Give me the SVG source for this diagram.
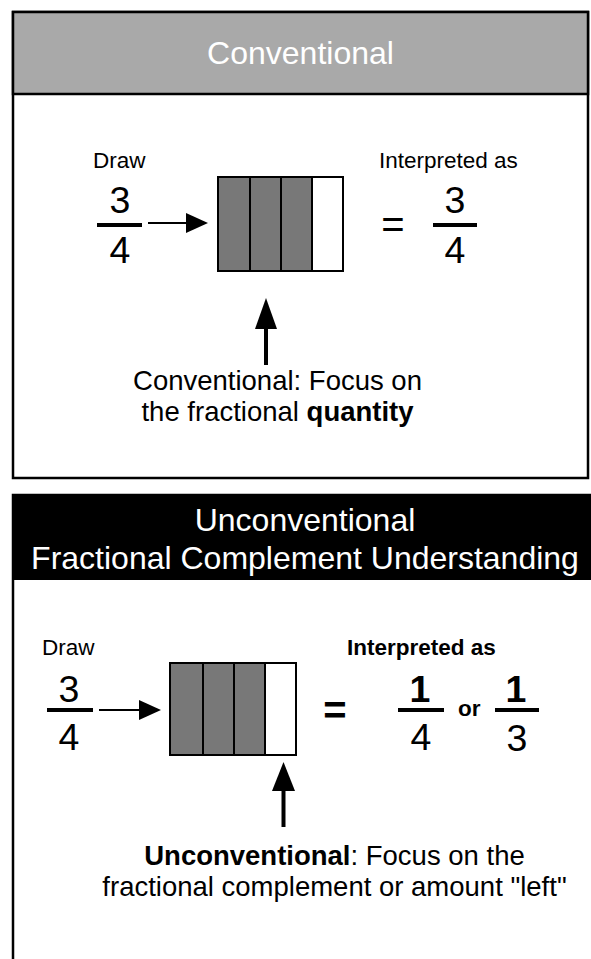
<svg xmlns="http://www.w3.org/2000/svg" width="591" height="959" viewBox="0 0 591 959">
<defs>
<style>
text{font-family:"Liberation Sans",Arial,Helvetica,sans-serif;fill:#000}
.title{font-size:32px;fill:#fff;text-anchor:middle}
.lbl{font-size:22.5px}
.num{font-size:37.5px;text-anchor:middle}
.bnum{font-size:37.5px;text-anchor:middle;font-weight:bold}
.cap{font-size:27.5px;text-anchor:middle}
.b{font-weight:bold}
.bar{stroke:#000;stroke-width:4}
.cell{fill:#787878;stroke:#000;stroke-width:2}
.cellw{fill:#fff;stroke:#000;stroke-width:2}
.shaft{stroke:#000;stroke-width:2}
.ushaft{stroke:#000;stroke-width:4}
</style>
</defs>

<g id="panel-conventional">
<rect x="13" y="12" width="575" height="466" fill="#fff" stroke="#000" stroke-width="2.5"/>
<rect x="13" y="12" width="575" height="82" fill="#a9a9a9" stroke="#000" stroke-width="2.5"/>
<text class="title" x="300.5" y="64">Conventional</text>
</g>

<g id="panel-unconventional">
<rect x="13" y="495" width="600" height="500" fill="#fff" stroke="#000" stroke-width="2.5"/>
<rect x="12" y="494" width="600" height="86" fill="#000"/>
<text class="title" x="305" y="531">Unconventional</text>
<text class="title" x="305" y="569">Fractional Complement Understanding</text>
</g>

<g id="top-draw">
<text class="lbl" x="93" y="168">Draw</text>
<text class="num" x="120" y="213">3</text>
<line class="bar" x1="97" y1="225" x2="142" y2="225"/>
<text class="num" x="120" y="263">4</text>
</g>

<g id="top-bar-model">
<rect class="cell" x="218" y="177" width="32" height="94"/>
<rect class="cell" x="250" y="177" width="31" height="94"/>
<rect class="cell" x="281" y="177" width="31" height="94"/>
<rect class="cellw" x="312" y="177" width="31" height="94"/>
</g>

<g id="top-interpreted">
<text class="num" x="393" y="238" style="font-size:40px">=</text>
<text class="lbl" x="379" y="168">Interpreted as</text>
<text class="num" x="455" y="213">3</text>
<line class="bar" x1="433" y1="225" x2="477" y2="225"/>
<text class="num" x="455" y="263">4</text>
</g>

<g id="top-caption">
<text class="cap" x="277.5" y="390">Conventional: Focus on</text>
<text class="cap" x="277.5" y="421">the fractional <tspan class="b">quantity</tspan></text>
</g>

<g id="bottom-draw">
<text class="lbl" x="42" y="655">Draw</text>
<text class="num" x="69" y="702">3</text>
<line class="bar" x1="47" y1="710" x2="93" y2="710"/>
<text class="num" x="69" y="750">4</text>
</g>

<g id="bottom-bar-model">
<rect class="cell" x="170" y="663" width="33" height="92"/>
<rect class="cell" x="203" y="663" width="31" height="92"/>
<rect class="cell" x="234" y="663" width="31" height="92"/>
<rect class="cellw" x="265" y="663" width="31" height="92"/>
</g>

<g id="bottom-interpreted">
<text class="num b" x="335" y="724" style="font-size:40px">=</text>
<text class="lbl b" x="347" y="655">Interpreted as</text>
<text class="bnum" x="420" y="702">1</text>
<line class="bar" x1="398" y1="710" x2="444" y2="710"/>
<text class="num" x="421" y="750">4</text>
<text class="lbl b" x="458" y="716">or</text>
<text class="bnum" x="516" y="702">1</text>
<line class="bar" x1="495" y1="710" x2="539" y2="710"/>
<text class="num" x="517" y="751">3</text>
</g>

<g id="bottom-caption">
<text class="cap" x="334.5" y="865"><tspan class="b">Unconventional</tspan>: Focus on the</text>
<text class="cap" x="334.5" y="896">fractional complement or amount "left"</text>
</g>

<g id="connectors">
<line class="shaft" x1="148" y1="223" x2="190" y2="223"/>
<polygon points="186,213 208,223 186,233"/>
<line class="ushaft" x1="266" y1="365" x2="266" y2="325"/>
<polygon points="255,329 266,298 277,329"/>
<line class="shaft" x1="99" y1="710" x2="143" y2="710"/>
<polygon points="139,700 161,710 139,720"/>
<line class="ushaft" x1="283.5" y1="827" x2="283.5" y2="786"/>
<polygon points="272,791 283.5,762 295,791"/>
</g>
</svg>
